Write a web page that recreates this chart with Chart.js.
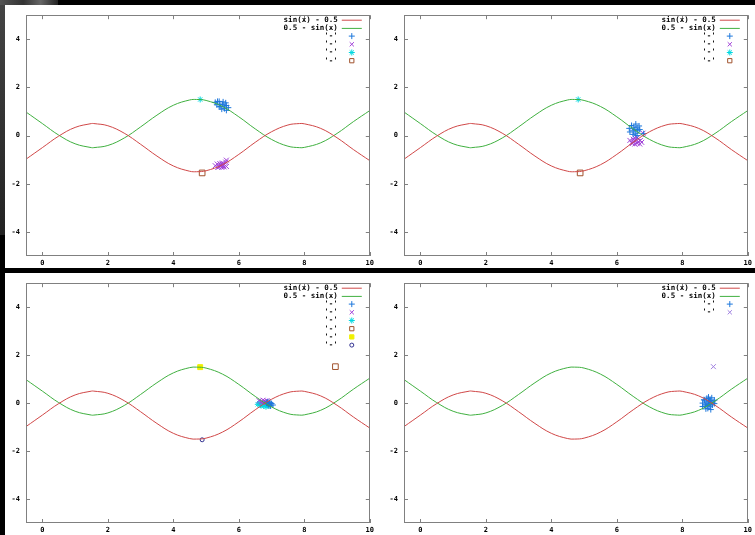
<!DOCTYPE html>
<html><head><meta charset="utf-8">
<script src="https://cdn.jsdelivr.net/npm/chart.js@4.4.1/dist/chart.umd.min.js"></script>
<style>
html,body{margin:0;padding:0;background:#000;width:755px;height:535px;overflow:hidden;position:relative}
.deco{position:absolute;left:0;top:0;width:58px;height:5px;background:linear-gradient(90deg,#555,#333 40%,#666 70%,#222)}
.deco2{position:absolute;left:0;top:5px;width:5px;height:230px;background:linear-gradient(180deg,#444,#222)}
.white{position:absolute;background:#fff}
canvas{position:absolute}
</style></head>
<body>
<div class="deco"></div><div class="deco2"></div>
<div class="white" style="left:5px;top:5px;width:750px;height:263px"></div>
<div class="white" style="left:5px;top:273px;width:750px;height:262px"></div>
<canvas id="c1" width="372" height="263" style="left:5px;top:5px"></canvas>
<canvas id="c2" width="372" height="263" style="left:383px;top:5px"></canvas>
<canvas id="c3" width="372" height="262" style="left:5px;top:273px"></canvas>
<canvas id="c4" width="372" height="262" style="left:383px;top:273px"></canvas>
<script>
// ---- data ----
const xTicks = [0, 2, 4, 6, 8, 10];
const yTicks = [-4, -2, 0, 2, 4];
const curveX = [-0.5, 0, 0.5, 1, 1.5, 1.57, 2, 2.5, 3, 3.5, 4, 4.5, 4.71, 5, 5.5, 6, 6.5, 7, 7.5, 7.85, 8, 8.5, 9, 9.5, 10];
const redY   = [-0.98, -0.5, -0.02, 0.34, 0.5, 0.5, 0.41, 0.1, -0.36, -0.85, -1.26, -1.48, -1.5, -1.46, -1.21, -0.78, -0.28, 0.16, 0.44, 0.5, 0.49, 0.3, -0.09, -0.58, -1.04];
const greenY = [0.98, 0.5, 0.02, -0.34, -0.5, -0.5, -0.41, -0.1, 0.36, 0.85, 1.26, 1.48, 1.5, 1.46, 1.21, 0.78, 0.28, -0.16, -0.44, -0.5, -0.49, -0.3, 0.09, 0.58, 1.04];
const curveLabels = ['sin(x) - 0.5', '0.5 - sin(x)'];
const pointLabel = "'-'";

const p1Plus = [[5.28,1.38],[5.33,1.28],[5.4,1.42],[5.42,1.3],[5.45,1.2],[5.52,1.4],[5.5,1.3],[5.56,1.12],[5.62,1.25],[5.62,1.05],[5.48,1.1],[5.35,1.42],[5.6,1.36],[5.68,1.16],[5.4,1.2],[5.55,1.22]];
const p1X = [[5.28,-1.25],[5.34,-1.18],[5.4,-1.3],[5.42,-1.16],[5.45,-1.22],[5.48,-1.32],[5.5,-1.14],[5.52,-1.25],[5.56,-1.2],[5.6,-1.1],[5.36,-1.32],[5.62,-1.28],[5.45,-1.26],[5.5,-1.2],[5.62,-1.02],[5.55,-1.3]];
const p1Star = [[4.82,1.5]];
const p1Sq = [[4.88,-1.55]];

const p2Plus = [[6.38,0.3],[6.45,0.42],[6.5,0.2],[6.52,0.35],[6.58,0.48],[6.58,0.1],[6.62,0.32],[6.64,0.2],[6.68,0.4],[6.5,0.05],[6.4,0.15],[6.7,0.25],[6.55,0.25],[6.82,0.08],[6.62,0.0]];
const p2X = [[6.4,-0.2],[6.45,-0.3],[6.5,-0.15],[6.52,-0.25],[6.55,-0.35],[6.58,-0.2],[6.62,-0.32],[6.62,-0.1],[6.66,-0.25],[6.7,-0.35],[6.72,-0.2],[6.48,-0.32],[6.55,-0.1],[6.76,-0.28],[6.8,0.1]];
const p2Star = [[4.82,1.5]];
const p2Sq = [[4.88,-1.55]];

const p3Plus = [[6.85,0.0],[6.9,-0.05],[6.95,0.03],[6.92,-0.1],[7.0,-0.02],[7.04,-0.08],[6.88,0.05],[6.97,-0.12],[6.93,0.0]];
const p3X = [[6.62,0.1],[6.68,0.06],[6.74,0.12],[6.8,0.08],[6.86,0.1],[6.72,0.03],[6.9,0.06]];
const p3Star = [[6.58,-0.05],[6.62,0.0],[6.68,-0.1],[6.72,-0.03],[6.76,-0.12],[6.8,-0.05],[6.83,-0.15],[6.86,-0.08],[6.92,-0.12],[6.78,0.0],[6.66,-0.08],[6.9,-0.02]];
const p3Sq = [[8.95,1.52]];
const p3Fill = [[4.82,1.5]];
const p3Circ = [[4.88,-1.53]];

const p4Plus = [[8.62,0.0],[8.68,0.12],[8.72,-0.12],[8.75,0.05],[8.78,-0.22],[8.8,0.18],[8.8,0.0],[8.82,-0.05],[8.86,0.1],[8.85,-0.15],[8.88,0.02],[8.9,0.22],[8.92,-0.08],[8.94,0.05],[8.98,-0.02],[8.7,-0.05],[8.75,0.2],[8.83,0.08],[8.78,-0.1],[8.66,0.14],[8.87,-0.27],[8.98,0.12],[8.62,-0.14],[8.8,0.25],[8.72,-0.24]];
const p4X = [[8.95,1.52]];

// ---- styles ----
const RED = '#d04848', GREEN = '#40b040';
const BLUE = '#1e78dc', PURPLE = '#a040d8', CYAN = '#00d8e0', BROWN = '#a0522d', YELLOW = '#f0f000', NAVY = '#303090';

const toXY = arr => arr.map(p => ({x: p[0], y: p[1]}));
const curves = () => [
  {label: curveLabels[0], data: curveX.map((x, i) => ({x, y: redY[i]})), showLine: true, borderColor: RED, borderWidth: 1, pointRadius: 0, tension: 0.4},
  {label: curveLabels[1], data: curveX.map((x, i) => ({x, y: greenY[i]})), showLine: true, borderColor: GREEN, borderWidth: 1, pointRadius: 0, tension: 0.4}
];
const pts = (data, style, color, r, fill) => ({
  label: pointLabel, data: toXY(data), showLine: false, pointStyle: style,
  pointRadius: r, pointHoverRadius: r, borderColor: color, borderWidth: 1,
  backgroundColor: fill ? color : 'rgba(0,0,0,0)'
});

function drawMark(ctx, style, x, y, r, color, fill) {
  ctx.save();
  ctx.strokeStyle = color; ctx.fillStyle = color; ctx.lineWidth = 1;
  ctx.beginPath();
  if (style === 'cross' || style === 'star') {
    ctx.moveTo(x - r, y); ctx.lineTo(x + r, y); ctx.moveTo(x, y - r); ctx.lineTo(x, y + r);
  }
  if (style === 'crossRot' || style === 'star') {
    const d = r * 0.707;
    ctx.moveTo(x - d, y - d); ctx.lineTo(x + d, y + d); ctx.moveTo(x + d, y - d); ctx.lineTo(x - d, y + d);
  }
  if (style === 'rect') {
    const s = r * 0.707;
    ctx.rect(x - s, y - s, 2 * s, 2 * s);
    if (fill) ctx.fill();
  }
  if (style === 'circle') {
    ctx.arc(x, y, r, 0, Math.PI * 2);
    if (fill) ctx.fill();
  }
  ctx.stroke();
  ctx.restore();
}

const gnuplotFrame = {
  id: 'gnuplotFrame',
  afterDatasetsDraw(chart) {
    const {ctx, chartArea: a, scales} = chart;
    ctx.save();
    ctx.strokeStyle = '#808080'; ctx.lineWidth = 1;
    ctx.strokeRect(Math.round(a.left) + 0.5, Math.round(a.top) + 0.5, Math.round(a.right - a.left) - 1, Math.round(a.bottom - a.top) - 1);
    ctx.beginPath();
    xTicks.forEach(v => {
      const px = Math.round(scales.x.getPixelForValue(v)) + 0.5;
      ctx.moveTo(px, a.bottom); ctx.lineTo(px, a.bottom - 4);
      ctx.moveTo(px, a.top); ctx.lineTo(px, a.top + 4);
    });
    yTicks.forEach(v => {
      const py = Math.round(scales.y.getPixelForValue(v)) + 0.5;
      ctx.moveTo(a.left, py); ctx.lineTo(a.left + 4, py);
      ctx.moveTo(a.right, py); ctx.lineTo(a.right - 4, py);
    });
    ctx.stroke();
    // legend
    ctx.font = 'bold 7.5px "DejaVu Sans Mono"';
    ctx.textAlign = 'right'; ctx.textBaseline = 'middle'; ctx.fillStyle = '#000';
    chart.data.datasets.forEach((ds, i) => {
      const y = a.top + 4.5 + i * 8.2;
      ctx.fillText(ds.label, a.right - 32, y);
      if (ds.showLine) {
        ctx.strokeStyle = ds.borderColor; ctx.lineWidth = 1;
        ctx.beginPath(); ctx.moveTo(a.right - 28, y + 0.5); ctx.lineTo(a.right - 8, y + 0.5); ctx.stroke();
      } else {
        const filled = ds.backgroundColor !== 'rgba(0,0,0,0)';
        drawMark(ctx, ds.pointStyle, a.right - 18, y, Math.min(ds.pointRadius, 3), ds.borderColor, filled);
      }
    });
    ctx.restore();
  }
};

function makeChart(id, datasets, topPad) {
  const tickFont = {family: '"DejaVu Sans Mono"', size: 7, weight: 'bold'};
  new Chart(document.getElementById(id), {
    type: 'scatter',
    data: {datasets},
    options: {
      responsive: false, animation: false, devicePixelRatio: 1,
      layout: {padding: {top: topPad, right: 5, left: 0, bottom: 0}},
      plugins: {legend: {display: false}, tooltip: {enabled: false}},
      scales: {
        x: {
          type: 'linear', min: -0.5, max: 10,
          afterBuildTicks: s => { s.ticks = xTicks.map(v => ({value: v})); },
          afterFit: s => { s.height = 12; },
          grid: {display: false, drawTicks: false}, border: {display: false},
          ticks: {font: tickFont, color: '#000', padding: 3, maxRotation: 0, autoSkip: false}
        },
        y: {
          type: 'linear', min: -5, max: 5,
          afterBuildTicks: s => { s.ticks = yTicks.map(v => ({value: v})); },
          afterFit: s => { s.width = 21; },
          grid: {display: false, drawTicks: false}, border: {display: false},
          ticks: {font: tickFont, color: '#000', padding: 6, autoSkip: false}
        }
      }
    },
    plugins: [gnuplotFrame]
  });
}

makeChart('c1', [...curves(), pts(p1Plus, 'cross', BLUE, 3), pts(p1X, 'crossRot', PURPLE, 3.5), pts(p1Star, 'star', CYAN, 3), pts(p1Sq, 'rect', BROWN, 4)], 8);
makeChart('c2', [...curves(), pts(p2Plus, 'cross', BLUE, 3), pts(p2X, 'crossRot', PURPLE, 3.5), pts(p2Star, 'star', CYAN, 3), pts(p2Sq, 'rect', BROWN, 4)], 8);
makeChart('c3', [...curves(), pts(p3Plus, 'cross', BLUE, 3), pts(p3X, 'crossRot', PURPLE, 3.5), pts(p3Star, 'star', CYAN, 3), pts(p3Sq, 'rect', BROWN, 4), pts(p3Fill, 'rect', YELLOW, 3.5, true), pts(p3Circ, 'circle', NAVY, 2)], 7);
makeChart('c4', [...curves(), pts(p4Plus, 'cross', BLUE, 3), pts(p4X, 'crossRot', '#a080e0', 3.5)], 7);
</script>
</body></html>
